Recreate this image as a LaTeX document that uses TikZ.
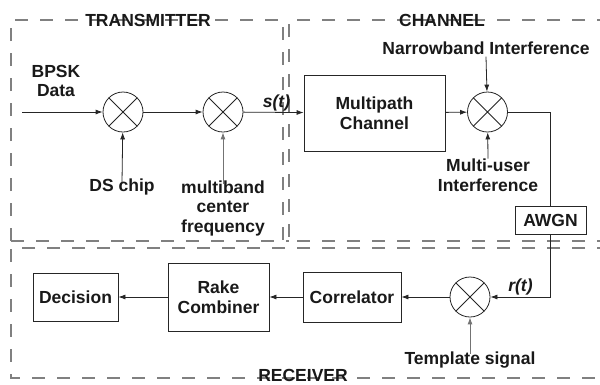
\documentclass[tikz,border=0pt]{standalone}
\usepackage{fontspec}
\setmainfont{Liberation Sans}
\usetikzlibrary{arrows.meta}
\begin{document}
\begin{tikzpicture}[x=1pt,y=-1pt,
  every node/.style={font=\fontsize{17.5}{19.5}\selectfont\bfseries, text=black!90, align=center},
  frame/.style={draw=black!50, line width=1.3pt, dash pattern=on 13pt off 12pt},
  blk/.style={draw=black!85, line width=0.8pt, inner sep=0pt},
  mixer/.style={circle, draw=black!85, line width=0.8pt, minimum size=40pt, inner sep=0pt,
    path picture={\draw[line width=0.8pt] (path picture bounding box.north west) -- (path picture bounding box.south east)
      (path picture bounding box.north east) -- (path picture bounding box.south west);}},
  conn/.style={draw=black!85, line width=0.8pt},
  arr/.style={conn, -{Latex[length=7pt,width=5pt]}},
  garr/.style={draw=black!55, line width=0.9pt, -{Latex[length=7pt,width=5pt]}},
  lbl/.style={inner sep=1pt},
  itl/.style={lbl, font=\fontsize{17.5}{19.5}\selectfont\bfseries\itshape}
]
\useasboundingbox (0,0) rectangle (600,384);
\clip (0,0) rectangle (600,384);
\fill[white] (0,0) rectangle (600,384);

% frames
\draw[frame] (11,241) -- (11,20) -- (283,20) -- (283,241);
\draw[frame] (610,20) -- (289,20) -- (289,241) -- (610,241);
\draw[frame] (11,241) -- (289,241);
\draw[frame] (610,248) -- (11,248) -- (11,378) -- (610,378);

\node (ttx) at (148,20) {TRANSMITTER};
\node (tch) at (442,20) {CHANNEL};
\node (trx) at (303,375) {RECEIVER};

% transmitter
\coordinate (in) at (22,112);
\node[lbl] (bpsk) at (56,81) {BPSK\\Data};
\node[mixer] (m1) at (123,112) {};
\node[mixer] (m2) at (223,112) {};
\node[lbl] (ds) at (122,187) {DS chip};
\node[lbl] (mb) at (223,208) {multiband\\center\\frequency};

% channel
\node[blk, minimum width=141pt, minimum height=76pt] (mp) at (374.5,113) {Multipath\\Channel};
\node[mixer] (m3) at (487.5,112) {};
\node[lbl] (nb) at (486,48) {Narrowband Interference};
\node[lbl] (mu) at (488,175) {Multi-user\\Interference};
\node[blk, minimum width=71pt, minimum height=28pt] (awgn) at (550.5,220) {AWGN};

% receiver
\node[mixer] (m4) at (470,297) {};
\node[lbl] (tpl) at (470,360) {Template signal};
\node[blk, minimum width=98pt, minimum height=50pt] (corr) at (352,297) {Correlator};
\node[blk, minimum width=101pt, minimum height=68pt] (rake) at (218.5,297) {Rake\\Combiner};
\node[blk, minimum width=85pt, minimum height=48pt] (dec) at (75.5,297) {Decision};

% connectors
\draw[arr] (in) -- (m1);
\draw[arr] (m1) -- (m2);
\draw[arr] (m2) -- node[itl, above, xshift=3pt] (st) {s(t)} (mp);
\draw[arr] ([yshift=-5pt]ds.north) -- (m1);
\draw[garr] ([yshift=-5pt]mb.north) -- (m2);
\draw[arr] (mp) -- (m3);
\draw[arr] ([yshift=-1pt]nb.south) -- (m3);
\draw[arr] ([yshift=-1pt]mu.north) -- (m3);
\draw[conn] (m3) -| (awgn);
\draw[arr] (awgn) |- node[pos=0.75, above, itl] (rt) {r(t)} (m4);
\draw[garr] ([yshift=-3pt]tpl.north) -- (m4);
\draw[arr] (m4) -- (corr);
\draw[arr] (corr) -- (rake);
\draw[arr] (rake) -- (dec);
\end{tikzpicture}
\end{document}
